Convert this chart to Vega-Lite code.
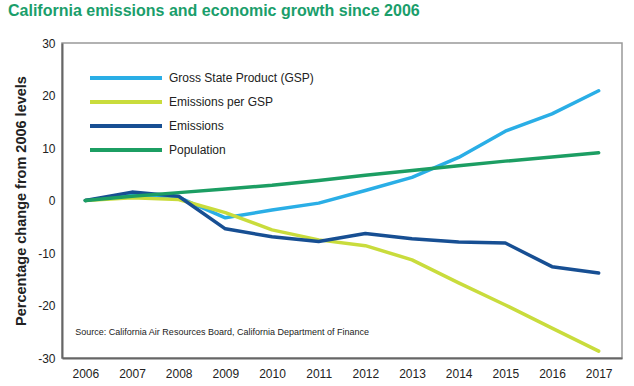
{
  "$schema": "https://vega.github.io/schema/vega-lite/v6.json",
  "autosize": "none",
  "width": 560,
  "height": 315,
  "padding": {"left": 62, "top": 43, "right": 12, "bottom": 28},
  "background": "white",
  "title": {
    "text": "California emissions and economic growth since 2006",
    "anchor": "start",
    "frame": "group",
    "dx": -54,
    "offset": 18,
    "font": "Liberation Sans, Arial, sans-serif",
    "fontSize": 16,
    "fontWeight": "bold",
    "color": "#1a9e6b"
  },
  "config": {
    "view": {"stroke": "#999999", "strokeWidth": 1.5},
    "axis": {"grid": false, "ticks": false, "labelFont": "Liberation Sans, Arial, sans-serif", "labelFontSize": 12, "labelColor": "#222222", "domainColor": "#666666", "domainWidth": 2}
  },
  "data": {
    "values": [
      {"year": "2006", "series": "Gross State Product (GSP)", "value": 0},
      {"year": "2007", "series": "Gross State Product (GSP)", "value": 1.0},
      {"year": "2008", "series": "Gross State Product (GSP)", "value": 0.6},
      {"year": "2009", "series": "Gross State Product (GSP)", "value": -3.3},
      {"year": "2010", "series": "Gross State Product (GSP)", "value": -1.8},
      {"year": "2011", "series": "Gross State Product (GSP)", "value": -0.5},
      {"year": "2012", "series": "Gross State Product (GSP)", "value": 1.9},
      {"year": "2013", "series": "Gross State Product (GSP)", "value": 4.4},
      {"year": "2014", "series": "Gross State Product (GSP)", "value": 8.2},
      {"year": "2015", "series": "Gross State Product (GSP)", "value": 13.2},
      {"year": "2016", "series": "Gross State Product (GSP)", "value": 16.5},
      {"year": "2017", "series": "Gross State Product (GSP)", "value": 20.9},
      {"year": "2006", "series": "Emissions per GSP", "value": 0},
      {"year": "2007", "series": "Emissions per GSP", "value": 0.5},
      {"year": "2008", "series": "Emissions per GSP", "value": 0.2},
      {"year": "2009", "series": "Emissions per GSP", "value": -2.3},
      {"year": "2010", "series": "Emissions per GSP", "value": -5.6},
      {"year": "2011", "series": "Emissions per GSP", "value": -7.5},
      {"year": "2012", "series": "Emissions per GSP", "value": -8.6},
      {"year": "2013", "series": "Emissions per GSP", "value": -11.3},
      {"year": "2014", "series": "Emissions per GSP", "value": -15.7},
      {"year": "2015", "series": "Emissions per GSP", "value": -19.9},
      {"year": "2016", "series": "Emissions per GSP", "value": -24.3},
      {"year": "2017", "series": "Emissions per GSP", "value": -28.7},
      {"year": "2006", "series": "Emissions", "value": 0},
      {"year": "2007", "series": "Emissions", "value": 1.6},
      {"year": "2008", "series": "Emissions", "value": 0.8},
      {"year": "2009", "series": "Emissions", "value": -5.4},
      {"year": "2010", "series": "Emissions", "value": -6.9},
      {"year": "2011", "series": "Emissions", "value": -7.8},
      {"year": "2012", "series": "Emissions", "value": -6.3},
      {"year": "2013", "series": "Emissions", "value": -7.3},
      {"year": "2014", "series": "Emissions", "value": -7.9},
      {"year": "2015", "series": "Emissions", "value": -8.1},
      {"year": "2016", "series": "Emissions", "value": -12.6},
      {"year": "2017", "series": "Emissions", "value": -13.8},
      {"year": "2006", "series": "Population", "value": 0},
      {"year": "2007", "series": "Population", "value": 0.8},
      {"year": "2008", "series": "Population", "value": 1.5},
      {"year": "2009", "series": "Population", "value": 2.2},
      {"year": "2010", "series": "Population", "value": 2.9},
      {"year": "2011", "series": "Population", "value": 3.8},
      {"year": "2012", "series": "Population", "value": 4.8},
      {"year": "2013", "series": "Population", "value": 5.7},
      {"year": "2014", "series": "Population", "value": 6.6},
      {"year": "2015", "series": "Population", "value": 7.5},
      {"year": "2016", "series": "Population", "value": 8.3},
      {"year": "2017", "series": "Population", "value": 9.1}
    ]
  },
  "layer": [
    {
      "mark": {"type": "line", "strokeWidth": 3.5, "strokeCap": "round", "strokeJoin": "round"},
      "encoding": {
        "x": {"field": "year", "type": "ordinal", "scale": {"type": "point", "padding": 0.5},
          "axis": {"title": null, "labelAngle": 0, "labelPadding": 10}},
        "y": {"field": "value", "type": "quantitative", "scale": {"domain": [-30, 30], "nice": false},
          "axis": {"title": "Percentage change from 2006 levels", "values": [-30, -20, -10, 0, 10, 20, 30], "labelPadding": 7,
            "labelExpr": "datum.value < 0 ? '-' + abs(datum.value) : '' + datum.value",
            "titleFont": "Liberation Sans, Arial, sans-serif", "titleFontSize": 14.5, "titleFontWeight": "bold", "titleColor": "#222222", "titlePadding": 9}},
        "color": {"field": "series", "type": "nominal",
          "scale": {"domain": ["Gross State Product (GSP)", "Emissions per GSP", "Emissions", "Population"],
            "range": ["#2aaee6", "#c9dc3c", "#174f93", "#1c9e63"]},
          "legend": {"title": null, "orient": "none", "legendX": 53, "legendY": 24,
            "symbolType": "M-4,0H4", "symbolSize": 324, "symbolStrokeWidth": 4,
            "labelFont": "Liberation Sans, Arial, sans-serif", "labelFontSize": 12, "labelColor": "#222222",
            "rowPadding": 5, "labelOffset": 32}},
        "order": {"value": 0}
      }
    },
    {
      "data": {"values": [{"year": "2006", "value": -25, "label": "Source: California Air Resources Board, California Department of Finance"}]},
      "mark": {"type": "text", "align": "left", "baseline": "middle", "dx": -10, "font": "Liberation Sans, Arial, sans-serif", "fontSize": 9, "color": "#222222"},
      "encoding": {
        "x": {"field": "year", "type": "ordinal"},
        "y": {"field": "value", "type": "quantitative"},
        "text": {"field": "label"}
      }
    }
  ]
}
